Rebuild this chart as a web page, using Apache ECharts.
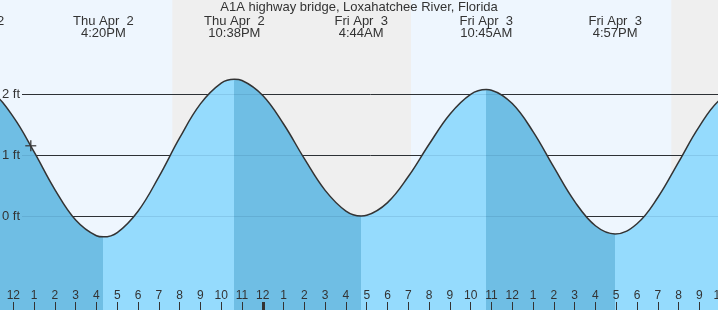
<!DOCTYPE html>
<html><head><meta charset="utf-8">
<script src="https://cdn.jsdelivr.net/npm/echarts@6/dist/echarts.min.js"></script>
<style>html,body{margin:0;padding:0;background:#eef6fe}#c{width:718px;height:310px}</style>
</head><body><div id="c"></div>
<script>
// ---- data (hours measured from noon, Thu Apr 2) ----
const tideHours = [-1.9, -1, 0, 1, 2, 3, 4, 4.333, 5, 6, 7, 8, 9, 10, 10.633, 11, 12, 13, 14, 15, 16, 16.733, 17, 18, 19, 20, 21, 22, 22.75, 23, 24, 25, 26, 27, 28, 28.95, 30, 31, 32, 33, 34, 35.1];
const tideFeet  = [2.12, 2.025, 1.633, 1.059, 0.442, -0.059, -0.316, -0.334, -0.263, 0.087, 0.650, 1.288, 1.846, 2.186, 2.25, 2.230, 1.984, 1.516, 0.948, 0.428, 0.089, 0.01, 0.020, 0.228, 0.655, 1.184, 1.677, 2.002, 2.08, 2.071, 1.851, 1.391, 0.808, 0.248, -0.151, -0.285, -0.118, 0.311, 0.892, 1.478, 1.917, 2.1];
const extremeHours = [-1.9, 4.333, 10.633, 16.733, 22.75, 28.95];
const extremeKinds = ['H', 'L', 'H', 'L', 'H', 'L'];
const extremeDates = ['Thu Apr  2', 'Thu Apr  2', 'Thu Apr  2', 'Fri Apr  3', 'Fri Apr  3', 'Fri Apr  3'];
const extremeClock = ['10:05AM', '4:20PM', '10:38PM', '4:44AM', '10:45AM', '4:57PM'];
const tickHours = [0,1,2,3,4,5,6,7,8,9,10,11,12,13,14,15,16,17,18,19,20,21,22,23,24,25,26,27,28,29,30,31,32,33,34];
const tickLabels = ['12','1','2','3','4','5','6','7','8','9','10','11','12','1','2','3','4','5','6','7','8','9','10','11','12','1','2','3','4','5','6','7','8','9','10'];
const midnightHours = [12];
const nightStart = [7.648, 31.65];
const nightEnd = [19.13, 34.6];
const gridFeet = [0, 1, 2];
const nowHour = [0.84];
const nowFeet = [1.16];
const titleText = 'A1A highway bridge, Loxahatchee River, Florida';

// ---- layout ----
const PX_PER_HOUR = 20.79, X0 = 13.3;
const xMin = -X0 / PX_PER_HOUR;
const xMax = xMin + 721 / PX_PER_HOUR;
const PX_PER_FT = 61, Y0 = 216.5;
const yMax = Y0 / PX_PER_FT;
const yMin = (Y0 - 310) / PX_PER_FT;
const FONT = 'Liberation Sans';
const DARK = '#6fbee4', LIGHT = '#95dbfd';

const pieces = [{lt: extremeHours[0], color: LIGHT}];
extremeHours.forEach((h, i) => {
  const p = {gte: h, color: extremeKinds[i] === 'H' ? DARK : LIGHT};
  if (i + 1 < extremeHours.length) p.lt = extremeHours[i + 1];
  pieces.push(p);
});

const tideData = tideHours.map((h, i) => [h, tideFeet[i]]);

const chart = echarts.init(document.getElementById('c'), null, {renderer: 'canvas'});
const option = {
  animation: false,
  backgroundColor: '#eef6fe',
  title: {text: titleText, left: 'center', top: 1, padding: 0,
    textStyle: {fontSize: 13, fontWeight: 'normal', color: '#333', fontFamily: FONT}},
  grid: {left: 0, right: -3, top: 0, bottom: 0, outerBoundsMode: 'none', containLabel: false},
  xAxis: [
    {type: 'value', position: 'bottom', min: xMin, max: xMax, z: 10,
      axisLine: {show: false, onZero: false}, splitLine: {show: false},
      axisTick: {show: true, inside: true, length: 8, customValues: tickHours, lineStyle: {color: '#333', width: 1}},
      axisLabel: {show: true, inside: true, margin: 8, customValues: tickHours,
        formatter: v => tickLabels[tickHours.indexOf(Math.round(v))],
        color: '#333', fontSize: 12, fontFamily: FONT}},
    {type: 'value', position: 'bottom', min: xMin, max: xMax, z: 10,
      axisLine: {show: false, onZero: false}, splitLine: {show: false},
      axisTick: {show: true, inside: true, length: 8, customValues: midnightHours, lineStyle: {color: '#333', width: 3}},
      axisLabel: {show: false}}
  ],
  yAxis: {type: 'value', min: yMin, max: yMax, z: 10,
    axisLine: {show: false, onZero: false}, axisTick: {show: false}, splitLine: {show: false},
    axisLabel: {show: true, inside: true, margin: 2, customValues: gridFeet,
      formatter: v => Math.round(v) + ' ft', color: '#333', fontSize: 13, fontFamily: FONT}},
  visualMap: {type: 'piecewise', show: false, dimension: 0, seriesIndex: 2, pieces: pieces},
  series: [
    {type: 'custom', z: 1, silent: true,
      data: nightStart.map((s, i) => [s, nightEnd[i]]),
      encode: {x: [0, 1]},
      renderItem: (params, api) => {
        const p1 = api.coord([api.value(0), yMax]);
        const p2 = api.coord([api.value(1), yMin]);
        return {type: 'rect', shape: {x: p1[0], y: p1[1], width: p2[0] - p1[0], height: p2[1] - p1[1]},
          style: {fill: '#efefef'}};
      }},
    {type: 'custom', z: 2, silent: true,
      data: gridFeet.map(v => [0, v]),
      renderItem: (params, api) => {
        const y = Math.round(api.coord([0, api.value(1)])[1] - 0.5) + 0.5;
        return {type: 'line', shape: {x1: 22, y1: y, x2: params.coordSys.x + params.coordSys.width, y2: y},
          style: {stroke: '#333', lineWidth: 1}};
      }},
    {type: 'line', z: 3, silent: true, data: tideData, smooth: 0.4, symbol: 'none',
      lineStyle: {width: 0}, areaStyle: {opacity: 1, origin: 'start'}},
    {type: 'custom', z: 4, silent: true,
      data: gridFeet.map(v => [0, v]),
      renderItem: (params, api) => {
        const y = Math.round(api.coord([0, api.value(1)])[1] - 0.5) + 0.5;
        return {type: 'line', shape: {x1: 22, y1: y, x2: params.coordSys.x + params.coordSys.width, y2: y},
          style: {stroke: 'rgba(0,40,80,0.1)', lineWidth: 1}};
      }},
    {type: 'line', z: 5, silent: true, data: tideData, smooth: 0.4, symbol: 'none',
      lineStyle: {color: '#333', width: 1.5}},
    {type: 'scatter', z: 6, silent: true,
      data: nowHour.map((h, i) => [h, nowFeet[i]]),
      symbol: 'path://M4.3,0h1.4v4.3h4.3v1.4h-4.3v4.3h-1.4v-4.3h-4.3v-1.4h4.3z',
      symbolSize: 11, itemStyle: {color: '#333'}}
  ]
};
chart.setOption(option);
const texts = extremeHours.map((h, i) => ({
  type: 'text', z: 20,
  x: chart.convertToPixel({xAxisIndex: 0}, h), y: 15,
  style: {text: extremeDates[i] + '\n' + extremeClock[i], font: '13px "' + FONT + '"', fill: '#333',
    align: 'center', verticalAlign: 'top', textAlign: 'center', textVerticalAlign: 'top', lineHeight: 12}
}));
chart.setOption({graphic: texts});
</script></body></html>
